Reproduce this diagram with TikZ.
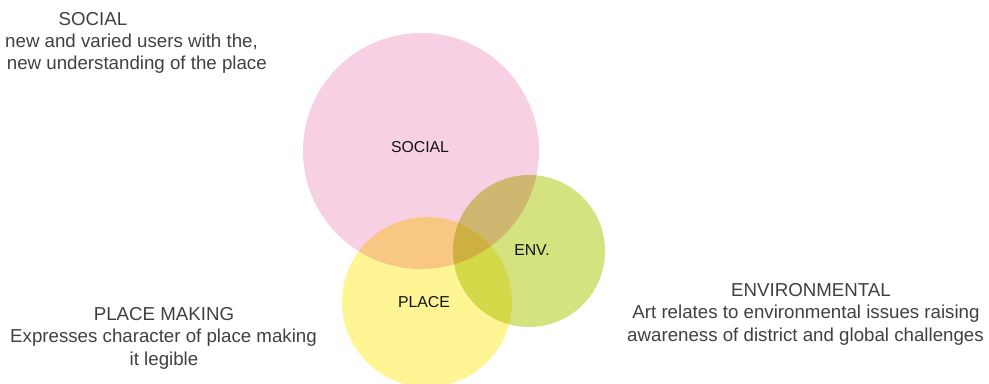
\documentclass[tikz,border=0pt]{standalone}
\usepackage{fontspec}
\setmainfont{Liberation Sans}
\definecolor{socialpink}{HTML}{F8D0E3}
\definecolor{placeyellow}{HTML}{FFF595}
\definecolor{envgreen}{HTML}{D4E27F}
\definecolor{txtgrey}{HTML}{404040}
\definecolor{lblblack}{HTML}{111111}
\begin{document}
\begin{tikzpicture}[x=1bp,y=-1bp,
  outer/.style={text=txtgrey,font=\fontsize{18.7bp}{22.4bp}\selectfont,inner sep=0pt,anchor=base},
  inner/.style={text=lblblack,font=\fontsize{15.8bp}{19bp}\selectfont,inner sep=0pt},
  blob/.style={draw=none}]
\useasboundingbox (0,0) rectangle (989,383);
\begin{scope}[blend group=multiply]
  \fill[socialpink] (421,151) circle[radius=118bp];
  \fill[placeyellow] (427,302) circle[radius=85bp];
  \fill[envgreen] (529,251) circle[radius=76bp];
\end{scope}
\node[inner] (social) at (420,147) {SOCIAL};
\node[inner] (env) at (532,250) {ENV.};
\node[inner] (place) at (424,302) {PLACE};
% social text
\node[outer] (sh) at (93,25.5) {SOCIAL};
\node[outer,anchor=base east] (s2) at (258,47) {new and varied users with the,};
\node[outer,anchor=base east] (s3) at (267,69.5) {new understanding of the place};
% place making
\node[outer] (ph) at (164,320) {PLACE MAKING};
\node[outer] (p2) at (163.5,342.5) {Expresses character of place making};
\node[outer] (p3) at (164,365) {it legible};
% environmental
\node[outer] (eh) at (811,296) {ENVIRONMENTAL};
\node[outer] (e2) at (806,318.5) {Art relates to environmental issues raising};
\node[outer] (e3) at (805.5,341) {awareness of district and global challenges};
\end{tikzpicture}
\end{document}
